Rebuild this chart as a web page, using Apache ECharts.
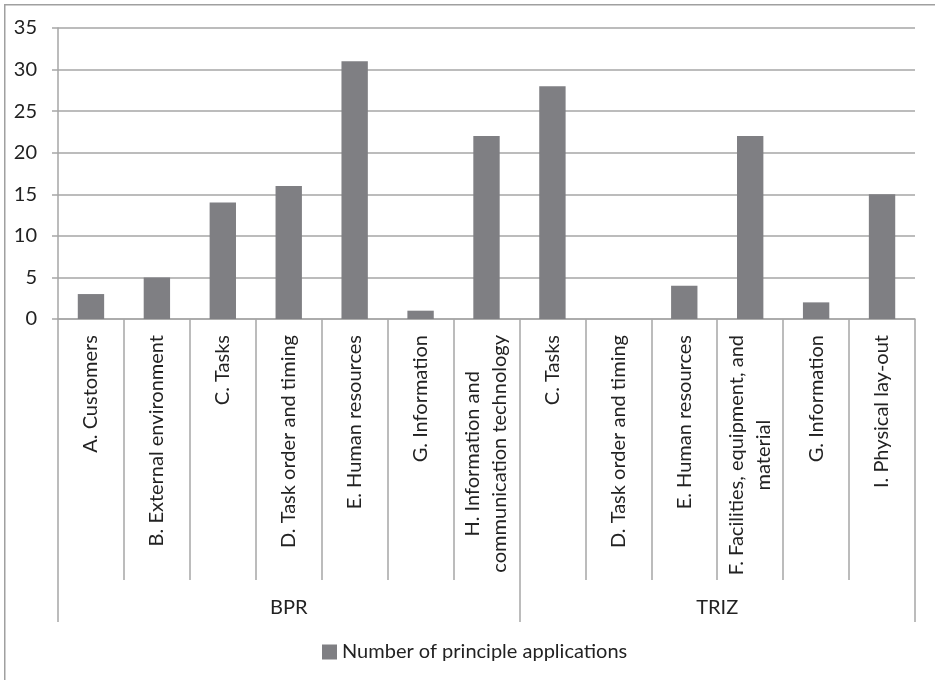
<!DOCTYPE html>
<html>
<head>
<meta charset="utf-8">
<script src="https://cdn.jsdelivr.net/npm/echarts@6/dist/echarts.min.js"></script>
<style>
html,body{margin:0;padding:0;background:#fff;}
#chart{width:935px;height:680px;}
</style>
</head>
<body>
<div id="chart"></div>
<script>
// ---- data ----
var categories = [
  'A. Customers',
  'B. External environment',
  'C. Tasks',
  'D. Task order and timing',
  'E. Human resources',
  'G. Information',
  'H. Information and\ncommunication technology',
  'C. Tasks',
  'D. Task order and timing',
  'E. Human resources',
  'F. Facilities, equipment, and\nmaterial',
  'G. Information',
  'I. Physical lay-out'
];
var values = [3, 5, 14, 16, 31, 1, 22, 28, 0, 4, 22, 2, 15];
var groupNames = ['BPR', 'TRIZ'];
var groupSizes = [7, 6];
var seriesName = 'Number of principle applications';
var yTicks = [0, 5, 10, 15, 20, 25, 30, 35];

// ---- derived group axis (half-category resolution) ----
var total = categories.length;
var halfSlots = [];
for (var i = 0; i <= total * 2; i++) halfSlots.push('');
var boundaryIdx = {0: true};
var start = 0;
for (var g = 0; g < groupNames.length; g++) {
  halfSlots[start * 2 + groupSizes[g]] = groupNames[g];
  start += groupSizes[g];
  boundaryIdx[start * 2] = true;
}

var FONT = 'Lato';
var FS = 20;
var TXT = '#222222';
var GRID = '#a6a6a6';

var chart = echarts.init(document.getElementById('chart'), null, {renderer: 'canvas'});
chart.setOption({
  animation: false,
  textStyle: {fontFamily: FONT},
  graphic: [{
    type: 'rect', left: 4, top: 4, z: -10,
    shape: {width: 960, height: 700},
    style: {fill: '#fff', stroke: '#a0a0a0', lineWidth: 1.5}
  }],
  grid: {left: 58, right: 20, top: 28, bottom: 361, containLabel: false},
  legend: {
    left: 317, top: 637,
    itemWidth: 15, itemHeight: 15, icon: 'rect', itemGap: 10,
    textStyle: {fontFamily: FONT, fontSize: FS, color: TXT},
    data: [seriesName]
  },
  xAxis: [{
    type: 'category',
    data: categories,
    position: 'bottom',
    axisLine: {show: true, lineStyle: {color: GRID, width: 1.5}},
    axisTick: {show: true, interval: 0, length: 261, lineStyle: {color: GRID, width: 1.5}},
    axisLabel: {
      interval: 0, rotate: 90, margin: 16,
      fontFamily: FONT, fontSize: FS, color: TXT,
      formatter: function (v) {
        return v.split('\n').map(function (s) { return '{c|' + s + '}'; }).join('\n');
      },
      rich: {c: {align: 'center', fontFamily: FONT, fontSize: FS, color: TXT, lineHeight: 27}}
    }
  }, {
    type: 'category',
    data: halfSlots,
    position: 'bottom',
    boundaryGap: false,
    axisLine: {show: false},
    axisTick: {
      show: true, length: 303, lineStyle: {color: GRID, width: 1.5},
      interval: function (idx) { return !!boundaryIdx[idx]; }
    },
    axisLabel: {
      margin: 279, fontFamily: FONT, fontSize: FS, color: TXT,
      interval: function (idx, v) { return v !== ''; }
    }
  }],
  yAxis: {
    type: 'value',
    min: yTicks[0], max: yTicks[yTicks.length - 1], interval: yTicks[1] - yTicks[0],
    axisLine: {show: true, lineStyle: {color: GRID, width: 1.5}},
    axisTick: {show: true, length: 6, lineStyle: {color: GRID, width: 1.5}},
    splitLine: {show: true, lineStyle: {color: GRID, width: 1.5}},
    axisLabel: {margin: 21, fontFamily: FONT, fontSize: FS, color: TXT}
  },
  series: [{
    name: seriesName,
    type: 'bar',
    xAxisIndex: 0,
    data: values,
    barWidth: '40%',
    itemStyle: {color: '#7f7f83'}
  }]
});
</script>
</body>
</html>
